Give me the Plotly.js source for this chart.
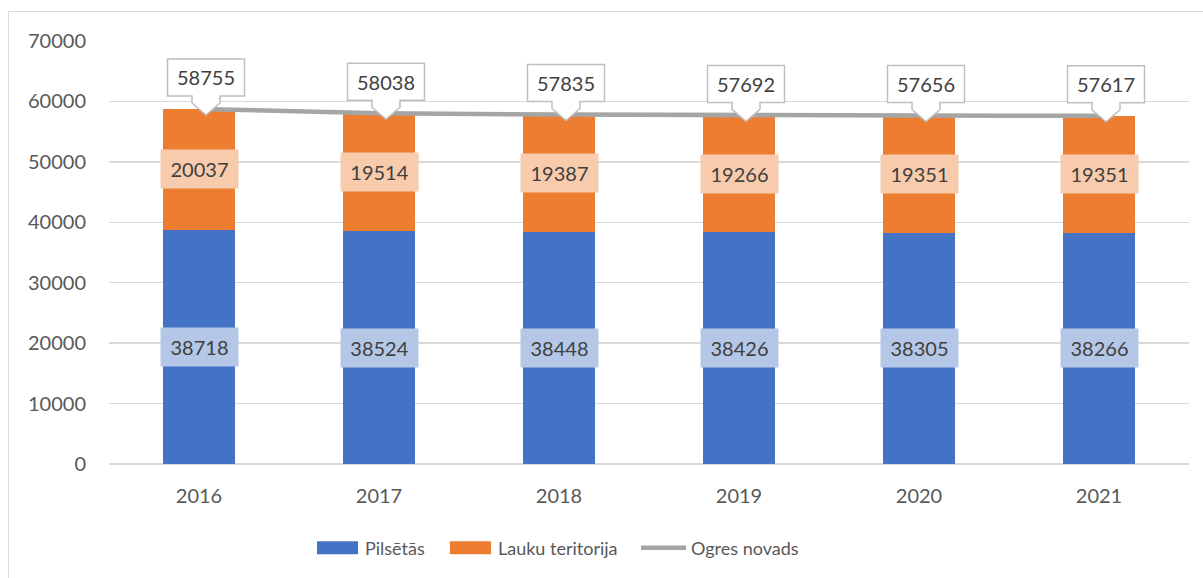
<!DOCTYPE html>
<html><head><meta charset="utf-8">
<script src="https://cdn.plot.ly/plotly-3.0.1.min.js"></script>
<style>
html,body{margin:0;padding:0;background:#fff;overflow:hidden;}
#chart{width:1203px;height:578px;}
#frame{position:absolute;left:8px;top:11px;width:1400px;height:800px;border:1.5px solid #D9D9D9;pointer-events:none;}
</style></head><body>
<div id="chart"></div><div id="frame"></div>
<script>
const years = ['2016','2017','2018','2019','2020','2021'];
const pilsetas = [38718,38524,38448,38426,38305,38266];
const lauku = [20037,19514,19387,19266,19351,19351];
const ogres = [58755,58038,57835,57692,57656,57617];
const seriesNames = ['Pilsētās','Lauku teritorija','Ogres novads'];
const seriesColors = ['#4472C4','#ED7D31','#A5A5A5'];

const FONT = 'Lato, "Open Sans", sans-serif';
const traces = [
  {type:'bar', name:seriesNames[0], x:years, y:pilsetas, marker:{color:seriesColors[0]}, hoverinfo:'skip'},
  {type:'bar', name:seriesNames[1], x:years, y:lauku, marker:{color:seriesColors[1]}, hoverinfo:'skip'},
  {type:'scatter', mode:'lines', name:seriesNames[2], x:years, y:ogres, line:{color:seriesColors[2], width:4.5}, hoverinfo:'skip'}
];

const annotations = [];
const shapes = [];
const labelFont = {family:FONT, size:20, color:'#404040'};
years.forEach((yr,i)=>{
  annotations.push({x:i, y:pilsetas[i]/2, xref:'x', yref:'y', text:String(pilsetas[i]), showarrow:false,
    bgcolor:'#B4C7E7', width:73, height:34, borderpad:2, font:labelFont});
  annotations.push({x:i, y:pilsetas[i]+lauku[i]/2, xref:'x', yref:'y', text:String(lauku[i]), showarrow:false,
    bgcolor:'#F8CBAD', width:73, height:34, borderpad:2, font:labelFont});
  shapes.push({type:'path', xref:'x', yref:'y', xsizemode:'pixel', ysizemode:'pixel',
    xanchor:i, yanchor:ogres[i], layer:'above',
    path:'M-31.5,13 L-7,13 L-7,6 L7,-6 L21,6 L21,13 L45.5,13 L45.5,50 L-31.5,50 Z',
    fillcolor:'#FFFFFF', line:{color:'#BFBFBF', width:1.5}});
  annotations.push({x:i, y:ogres[i], xref:'x', yref:'y', text:String(ogres[i]), showarrow:false,
    xshift:7, yshift:31.5, font:labelFont});
});

// custom legend (wide swatches like the original)
const legY = -0.198;
const legSwatch = [[0.1926,0.2306],[0.3157,0.3537],[0.4926,0.5343]];
const legText = [0.2356,0.3587,0.5370];
seriesNames.forEach((nm,k)=>{
  if(k<2){
    shapes.push({type:'rect', xref:'paper', yref:'paper', ysizemode:'pixel', yanchor:legY,
      x0:legSwatch[k][0], x1:legSwatch[k][1], y0:-6.5, y1:6.5,
      fillcolor:seriesColors[k], line:{width:0}, layer:'above'});
  } else {
    shapes.push({type:'line', xref:'paper', yref:'paper', ysizemode:'pixel', yanchor:legY,
      x0:legSwatch[k][0], x1:legSwatch[k][1], y0:0, y1:0,
      line:{color:seriesColors[k], width:4.5}, layer:'above'});
  }
  annotations.push({xref:'paper', yref:'paper', x:legText[k], y:legY, xanchor:'left', yanchor:'middle',
    text:nm, showarrow:false, font:{family:FONT, size:18, color:'#595959'}});
});

const layout = {
  width:1203, height:578,
  margin:{l:109, r:14, t:41, b:114},
  paper_bgcolor:'#FFFFFF', plot_bgcolor:'#FFFFFF',
  font:{family:FONT, size:20, color:'#595959'},
  barmode:'stack', bargap:0.6,
  showlegend:false,
  xaxis:{type:'category', range:[-0.5, years.length-0.5], autorange:false, showgrid:false, showline:false, ticks:'', zeroline:false,
    ticklabelstandoff:18, tickfont:{family:FONT, size:20, color:'#595959'}},
  yaxis:{range:[0,70000], autorange:false, dtick:10000, tickformat:'d', gridcolor:'#D9D9D9', gridwidth:1.3,
    zeroline:true, zerolinecolor:'#D9D9D9', zerolinewidth:1.5, showline:false, ticks:'',
    ticklabelstandoff:22, tickfont:{family:FONT, size:20, color:'#595959'}},
  annotations:annotations,
  shapes:shapes
};
Plotly.newPlot('chart', traces, layout, {displayModeBar:false, staticPlot:true});
</script>
</body></html>
